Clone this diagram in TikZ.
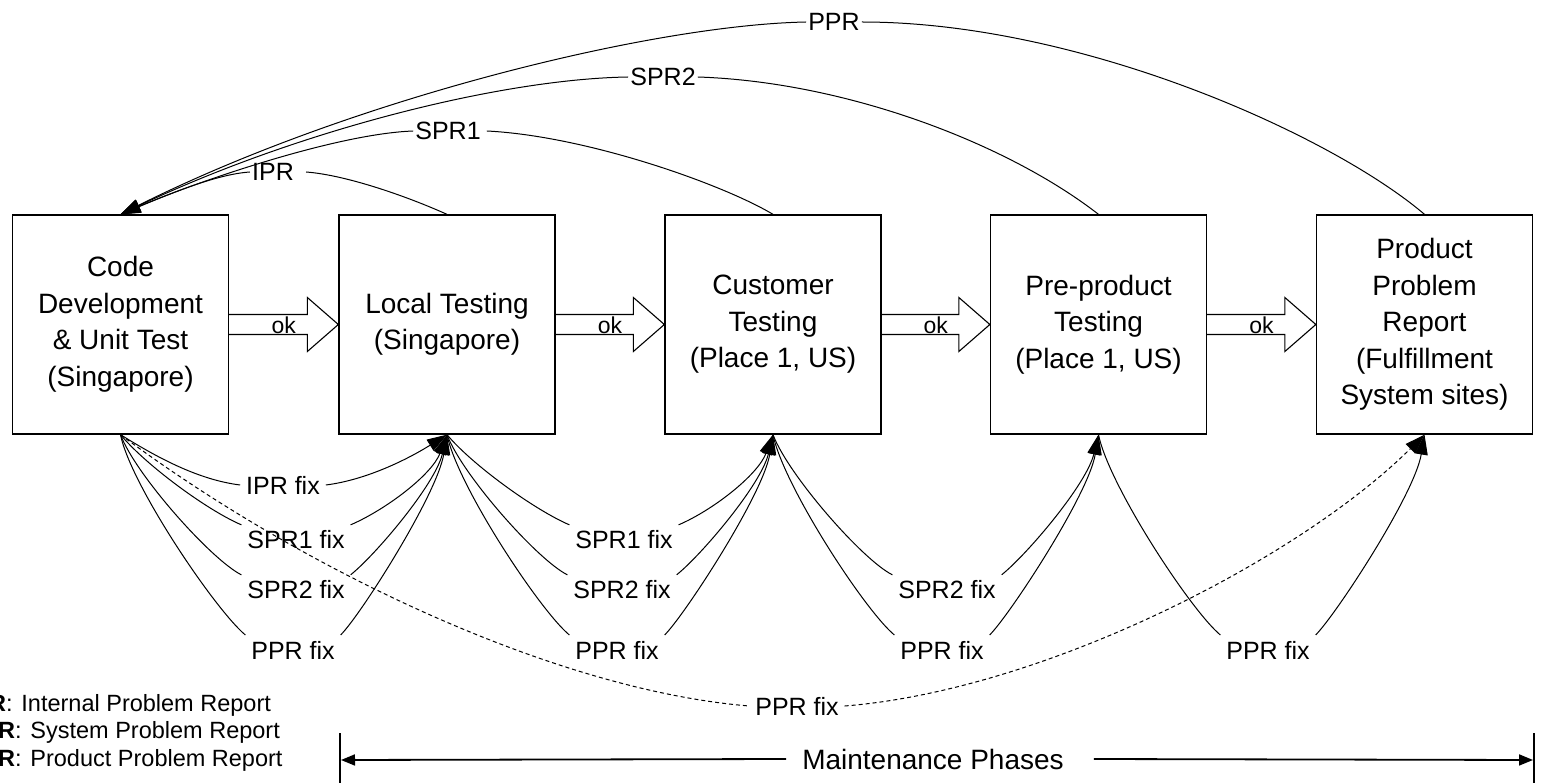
\documentclass[tikz,border=0pt]{standalone}
\usepackage{fontspec}
\setmainfont{Liberation Sans}
\usetikzlibrary{arrows.meta,calc}
\begin{document}
\begin{tikzpicture}[x=1pt,y=-1pt,
  pbox/.style={draw,line width=1.3pt,minimum width=216pt,minimum height=219pt,inner sep=0pt,align=center,font=\fontsize{28}{36.5}\selectfont},
  toplab/.style={inner sep=2pt,font=\fontsize{25}{30}\selectfont},
  fixlab/.style={inner sep=2pt,outer sep=4pt,font=\fontsize{25}{30}\selectfont},
  oklab/.style={inner sep=0pt,font=\fontsize{23}{26}\selectfont},
  leg/.style={inner sep=0pt,anchor=west,font=\fontsize{23.5}{28}\selectfont},
  conn/.style={line width=1pt},
  dashconn/.style={line width=1pt,dash pattern=on 4pt off 3pt},
  arr/.style={-{Triangle[length=20pt,width=13pt]}},
  okarrow/.style={draw,line width=1.1pt,line join=miter},
  mline/.style={line width=1.8pt,-{Triangle[length=14pt,width=11pt]}},
  bar/.style={line width=1.5pt}
]
\useasboundingbox (0,0) rectangle (1541,783);
\clip (0,0) rectangle (1541,783);

% boxes
\node[pbox] (b1) at (120.5,324.5) {Code\\Development\\\& Unit Test\\(Singapore)};
\node[pbox] (b2) at (447,324.5) {Local Testing\\(Singapore)};
\node[pbox] (b3) at (773,324.5) {Customer\\Testing\\(Place 1, US)};
\node[pbox] (b4) at (1098.5,324.5) {Pre-product\\Testing\\(Place 1, US)};
\node[pbox] (b5) at (1424.5,324.5) {Product\\Problem\\Report\\(Fulfillment\\System sites)};

% ok arrows
\foreach \a/\b/\k in {b1/b2/1,b2/b3/2,b3/b4/3,b4/b5/4}{
  \draw[okarrow] ($(\a.east)+(0,-10)$) -- ($(\b.west)+(-31,-10)$) -- ($(\b.west)+(-31,-27)$)
     -- (\b.west) -- ($(\b.west)+(-31,27)$) -- ($(\b.west)+(-31,10)$) -- ($(\a.east)+(0,10)$);
  \node[oklab] (ok\k) at ($(\a.east)!0.5!(\b.west)+(0,1)$) {ok};
}

% top problem report arcs
\node[toplab] (ipr) at (273,172) {IPR};
\node[toplab] (spr1) at (448,131) {SPR1};
\node[toplab] (spr2) at (663,77) {SPR2};
\node[toplab] (ppr) at (834,22) {PPR};

\draw[conn] (b2.north) .. controls +(-40,-18) and +(40,3) .. ([xshift=10pt]ipr.east);
\draw[conn,arr] (ipr.west) .. controls +(-30,2) and +(60,-25) .. (b1.north);
\draw[conn] (b3.north) .. controls +(-50,-30) and +(100,5) .. ([xshift=4pt]spr1.east);
\draw[conn,arr] (spr1.west) .. controls +(-80,3) and +(70,-30) .. (b1.north);
\draw[conn] (b4.north) .. controls +(-90,-70) and +(150,5) .. (spr2.east);
\draw[conn,arr] (spr2.west) .. controls +(-126,2) and +(180,-85) .. (b1.north);
\draw[conn] (b5.north) .. controls +(-94,-80) and +(218,0) .. (ppr.east);
\draw[conn,arr] (ppr.west) .. controls +(-155,3) and +(230,-115) .. (b1.north);

% fix labels
\node[fixlab] (ia) at (283,485) {IPR fix};
\node[fixlab] (s1a) at (296,540) {SPR1 fix};
\node[fixlab] (s2a) at (296,590) {SPR2 fix};
\node[fixlab] (pa) at (293,650) {PPR fix};
\node[fixlab] (s1b) at (624,540) {SPR1 fix};
\node[fixlab] (s2b) at (622,590) {SPR2 fix};
\node[fixlab] (pb) at (617,650) {PPR fix};
\node[fixlab] (s2c) at (947,590) {SPR2 fix};
\node[fixlab] (pc) at (942,650) {PPR fix};
\node[fixlab] (pd) at (1268,650) {PPR fix};
\node[fixlab] (pz) at (797,706) {PPR fix};

% IPR fix
\draw[conn] (b1.south) .. controls +(40,25) and +(-40,-5) .. (ia.west);
\draw[conn,arr] (ia.east) .. controls +(40,-5) and +(-40,25) .. (b2.south);

% SPR1 fix
\foreach \s/\t/\l in {b1/b2/s1a,b2/b3/s1b}{
  \draw[conn] (\s.south) .. controls +(25,30) and +(-35,-15) .. (\l.north west);
  \draw[conn,arr] (\l.north east) .. controls +(35,-15) and +(-15,40) .. (\t.south);
}
% SPR2 fix
\foreach \s/\t/\l in {b1/b2/s2a,b2/b3/s2b,b3/b4/s2c}{
  \draw[conn] (\s.south) .. controls +(15,40) and +(-30,-15) .. (\l.north west);
  \draw[conn,arr] (\l.north east) .. controls +(25,-20) and +(-12,50) .. (\t.south);
}
% PPR fix
\foreach \s/\t/\l in {b1/b2/pa,b2/b3/pb,b3/b4/pc,b4/b5/pd}{
  \draw[conn] (\s.south) .. controls +(10,50) and +(-30,-25) .. (\l.north west);
  \draw[conn,arr] (\l.north east) .. controls +(20,-20) and +(-10,60) .. (\t.south);
}
% dashed PPR fix
\draw[dashconn] (b1.south) .. controls +(180,134) and +(-195,-16) .. (pz.west);
\draw[dashconn,arr] (pz.east) .. controls +(200,-16) and +(-125,124) .. (b5.south);

% legend (cut off at the left edge, as in the reference)
\node[leg] (l1) at (6,705) {\llap{\textbf{IPR}}: Internal Problem Report};
\node[leg] (l2) at (15,732) {\llap{\textbf{SPR}}: System Problem Report};
\node[leg] (l3) at (15,760) {\llap{\textbf{PPR}}: Product Problem Report};

% maintenance phases
\coordinate (mlt) at (340,733);
\coordinate (mlb) at (340,790);
\coordinate (mrt) at (1534,733);
\coordinate (mrb) at (1534,790);
\coordinate (ml) at (341,760);
\coordinate (mr) at (1533,760);
\draw[bar] (mlt) -- (mlb);
\draw[bar] (mrt) -- (mrb);
\node[inner sep=0pt,font=\fontsize{28}{32}\selectfont] (mp) at (933,759) {Maintenance Phases};
\draw[mline] ([xshift=-16pt]mp.west) -- (ml);
\draw[mline] ([xshift=30pt]mp.east) -- (mr);
\end{tikzpicture}
\end{document}
